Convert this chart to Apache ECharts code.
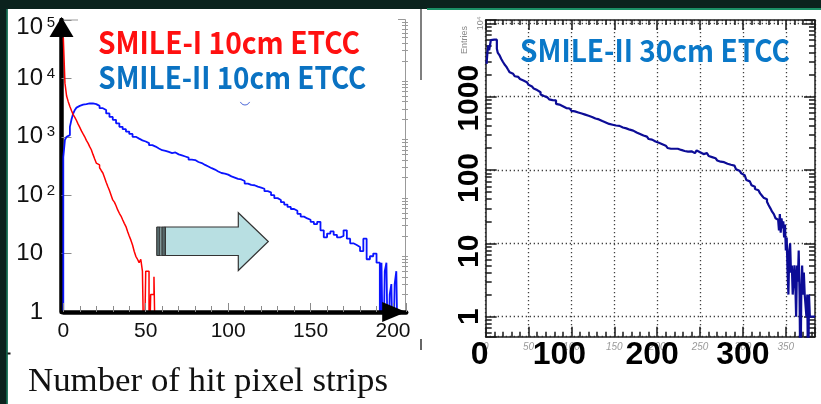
<!DOCTYPE html>
<html><head><meta charset="utf-8">
<script src="https://cdn.jsdelivr.net/npm/echarts@6/dist/echarts.min.js"></script>
<style>html,body{margin:0;padding:0;background:#0b221d;}#c{width:821px;height:404px;}</style>
</head><body><div id="c"></div><script>
// ---------- data ----------
const leftRedX = [0,1,2,3,4,5,6,7,8,9,10,11,12,13,14,15,16,17,18,19,20,21,22,23,24,25,26,27,28,29,30,31,32,33,34,35,36,37,38,39,40,41,42,43,44,45,46,47,48,49,50,51,52,53,54,55,56,57];
const leftRedY = [50000,8300,5000,4000,3300,2800,2400,2150,1900,1650,1450,1260,1120,1000,870,780,680,600,500,420,355,330,295,265,240,200,166,141,120,100,83,76,66,56,49,44,38,33,29,24,20,17,14,11,9,8,7,8,5,0.1,5,5,0.1,2,2,4,0.1,0.1];

const leftBlueX = [0,0,1,2,3,4,5,6,7,8,9,10,12,14,16,18,20,22,24,26,28,30,32,34,36,38,40,42,44,46,48,50,52,54,56,58,60,62,64,66,68,70,72,74,76,78,80,82,84,86,88,90,92,94,96,98,100,102,104,106,108,110,112,114,116,118,120,122,124,126,128,130,132,134,136,138,140,142,144,146,148,150,152,154,156,158,160,162,164,166,168,170,172,174,176,178,180,182,184,186,188,190,192,193,194,195,196,197,198,199,200,201,202,203,204];
const leftBlueY = [0.1,450,890,1000,1070,1480,2000,2500,2880,3160,3390,3550,3630,3720,3720,3630,3390,3090,2880,2510,2190,1950,1700,1480,1350,1230,1120,1000,930,870,830,780,720,680,630,590,575,550,525,540,500,480,460,440,405,400,370,355,330,310,290,275,255,240,235,225,210,200,190,186,175,158,150,148,140,135,129,117,112,100,89,83,76,69,63,58,54,48,43,40,38,35,32,35,25,19,22,24,21,19,20,25,18,15,14,13,11,18,8,9,10,7,0.1,7,0.1,5,7,0.1,2,3,0.1,3,5,0.1,0.1];

const rightX = [1,2,3,4,5,6,8,10,12,13,14,16,18,20,22,24,26,28,30,32,34,36,38,40,42,44,46,48,50,52,54,56,58,60,62,64,66,68,70,72,74,76,78,80,82,84,86,88,90,92,94,96,98,100,102,104,106,108,110,112,114,116,118,120,122,124,126,128,130,132,134,136,138,140,142,144,146,148,150,152,154,156,158,160,162,164,166,168,170,172,174,176,178,180,182,184,186,188,190,192,194,196,198,200,202,204,206,208,210,212,214,216,218,220,222,224,226,228,230,232,234,236,238,240,242,244,246,248,250,252,254,256,258,260,262,264,266,268,270,272,274,276,278,280,282,284,286,288,290,292,294,296,298,300,302,304,306,308,310,312,314,316,318,320,322,324,326,328,330,332,334,336,338,340,341,342,343,344,345,346,347,348,349,350,351,352,353,354,355,356,357,358,359,360,361,362,363,364,365,366,367,368,369,370,371,372,373,374,375,376,377,378,379,381,383];
const rightY = [2800,4000,5000,4300,5000,5900,6000,6000,6000,4500,4000,3700,3300,3000,2750,2570,2350,2150,2050,2000,1900,1860,1800,1740,1660,1700,1580,1510,1450,1380,1350,1290,1230,1170,1150,1070,1020,1000,980,960,920,900,870,890,800,780,760,740,710,700,680,690,660,640,630,620,610,600,590,575,570,555,550,540,530,520,505,495,490,480,465,455,445,440,425,420,415,410,405,395,400,385,380,375,370,365,355,350,345,335,325,315,310,300,295,290,285,275,265,260,250,245,240,235,230,225,220,215,205,200,195,200,195,200,195,190,188,185,182,180,178,175,180,175,170,180,185,175,170,165,160,170,160,155,150,145,145,140,135,130,135,128,125,122,120,118,118,115,108,102,98,96,90,85,80,73,70,66,62,59,55,53,50,48,45,42,40,37,33,30,27,25,22,21,21,15,25,14,22,16,20,12,18,8,12,4,2,8,10,4,5,2,3,5,3,1,5,3,8,2,0.1,2,5,2,4,2,2,1,2,0.1,2,1,1,1,1];

const leftXLabels = [0, 50, 100, 150, 200];
const rightSmallXLabels = [0, 50, 100, 150, 200, 250, 300, 350];
const rightBigXLabels = [0, 100, 200, 300];
const rightBigYLabels = [1, 10, 100, 1000];

const legendTexts = ['SMILE-I 10cm ETCC', 'SMILE-II 10cm ETCC', 'SMILE-II 30cm ETCC'];
const xTitle = 'Number of hit pixel strips';

// ---------- helpers ----------
function hist(xs, ys, w) {
  const d = xs.map((x, i) => [x, ys[i]]);
  d.push([xs[xs.length - 1] + w, ys[ys.length - 1]]);
  return d;
}
function logMinor(e0, e1) {
  const out = [];
  for (let e = e0; e < e1; e++) for (let m = 2; m <= 9; m++) out.push(+(m * Math.pow(10, e)).toPrecision(6));
  return out;
}
function isDecade(v) { const l = Math.log10(v); return Math.abs(l - Math.round(l)) < 1e-6; }
const mctx = document.createElement('canvas').getContext('2d');
function fit(text, font, w) { mctx.font = font; return w / mctx.measureText(text).width; }

const LEG_FONT = 'bold 31px "Noto Sans CJK JP"';
const SERIF_FONT = '34px "Liberation Serif"';
const sans = '"Liberation Sans", Arial, sans-serif';

const rYmin = 0.533, rYmax = 11120, rXmax = 384;
const darkTick = {color: '#1a1a1a', width: 1.5};
const dotted = {color: '#404040', width: 1.3, type: [1.3, 2.7]};

const chart = echarts.init(document.getElementById('c'), null, {renderer: 'canvas'});
chart.setOption({
  backgroundColor: '#0b221d',
  animation: false,
  grid: [
    {left: 63.3, top: 20, right: 414.8, bottom: 92},
    {left: 485.7, top: 20, right: 6, bottom: 67.3}
  ],
  xAxis: [
    { type: 'value', gridIndex: 0, min: 0, max: 208, interval: 50, z: 3,
      axisLine: {show: true, onZero: false, lineStyle: {color: '#000', width: 4.5}, symbol: ['none', 'triangle'], symbolSize: [20, 24], symbolOffset: [0, -12]},
      axisTick: {show: true, inside: true, length: 9, lineStyle: {color: '#8a8a8a', width: 1}},
      minorTick: {show: true, splitNumber: 5, length: 6, lineStyle: {color: '#8a8a8a', width: 1}},
      axisLabel: {margin: 9, fontSize: 21, fontFamily: sans, color: '#111', formatter: v => leftXLabels.includes(v) ? String(v) : ''},
      splitLine: {show: false}, minorSplitLine: {show: false} },
    { type: 'value', gridIndex: 1, min: 0, max: rXmax, interval: 50, position: 'bottom',
      axisLine: {show: true, onZero: false, lineStyle: {color: '#222', width: 1.5}},
      axisTick: {show: true, inside: true, length: 10, lineStyle: darkTick},
      minorTick: {show: true, splitNumber: 5, length: 5, lineStyle: darkTick},
      axisLabel: {margin: 6, fontSize: 10, fontFamily: sans, fontStyle: 'italic', color: '#9a9a9a', formatter: v => rightSmallXLabels.includes(v) ? String(v) : ''},
      splitLine: {show: true, lineStyle: dotted} },
    { type: 'value', gridIndex: 1, min: 0, max: rXmax, interval: 100, position: 'bottom',
      axisLine: {show: false, onZero: false}, axisTick: {show: false},
      axisLabel: {margin: 2, fontSize: 32, fontWeight: 'bold', fontFamily: sans, color: '#000',
        formatter: v => !rightBigXLabels.includes(v) ? '' : (v === 0 ? '0{g0| }' : v === 100 ? '100{g1| }' : v === 200 ? '200{g2| }' : '300'),
        rich: {g0: {fontSize: 32, width: 12}, g1: {fontSize: 32, width: 24}, g2: {fontSize: 32, width: 10}}},
      splitLine: {show: false} },
    { type: 'value', gridIndex: 1, min: 0, max: rXmax, interval: 50, position: 'top',
      axisLine: {show: true, onZero: false, lineStyle: {color: '#222', width: 1.5}},
      axisTick: {show: true, inside: true, length: 10, lineStyle: darkTick},
      minorTick: {show: true, splitNumber: 5, length: 5, lineStyle: darkTick},
      axisLabel: {show: false}, splitLine: {show: false} }
  ],
  yAxis: [
    { type: 'log', logBase: 10, gridIndex: 0, min: 1, max: 100000, offset: 1.8, z: 1,
      axisLine: {show: true, onZero: false, lineStyle: {color: '#000', width: 4.5}, symbol: ['none', 'triangle'], symbolSize: [24, 20], symbolOffset: [0, -7]},
      axisTick: {show: true, inside: true, length: 10, lineStyle: {color: '#8a8a8a', width: 1}},
      axisLabel: {margin: 6.5, fontSize: 24, fontFamily: sans, color: '#111',
        formatter: v => {
          if (!isDecade(v)) return '';
          const e = Math.round(Math.log10(v));
          if (e === 0) return '1{sp| }';
          if (e === 1) return '10{sp| }';
          if (e === 5) return '{e| }\n10{sup|5}';
          return '10{sup|' + e + '}';
        },
        rich: {
          sup: {fontSize: 15, fontFamily: sans, color: '#111', verticalAlign: 'top', width: 9, padding: [0, 0, 0, 3]},
          sp: {fontSize: 15, width: 9, padding: [0, 0, 0, 3]},
          e: {fontSize: 12, lineHeight: 14}
        }},
      splitLine: {show: false} },
    { type: 'log', logBase: 10, gridIndex: 0, min: 1, max: 100000, offset: 1.8,
      axisLine: {show: false, onZero: false},
      axisTick: {show: true, inside: true, length: 6, customValues: logMinor(0, 5), lineStyle: {color: '#9a9a9a', width: 1}},
      axisLabel: {show: false}, splitLine: {show: false} },
    { type: 'log', logBase: 10, gridIndex: 1, min: rYmin, max: rYmax, position: 'left',
      axisLine: {show: true, onZero: false, lineStyle: {color: '#222', width: 1.5}},
      axisTick: {show: true, inside: true, length: 11, lineStyle: darkTick},
      axisLabel: {margin: 1, rotate: 90, fontSize: 30, fontWeight: 'bold', fontFamily: sans, color: '#000',
        formatter: v => {
          if (!isDecade(v)) return '';
          const r = Math.round(v);
          if (r === 10000) return '{s|10⁴}';
          if (r === 1000) return '1000{g|}{k| }';
          if (r === 100 || r === 10) return r + '{h| }';
          return rightBigYLabels.includes(r) ? String(r) : '';
        },
        rich: {
          s: {fontSize: 9, fontWeight: 'normal', color: '#8a8a8a', fontFamily: sans},
          k: {fontSize: 30, width: 3},
          h: {fontSize: 30, width: 16}
        }},
      splitLine: {show: true, lineStyle: dotted} },
    { type: 'log', logBase: 10, gridIndex: 1, min: rYmin, max: rYmax, position: 'left',
      axisLine: {show: false, onZero: false},
      axisTick: {show: true, inside: true, length: 6, customValues: logMinor(-1, 5), lineStyle: darkTick},
      axisLabel: {show: false}, splitLine: {show: false} },
    { type: 'log', logBase: 10, gridIndex: 1, min: rYmin, max: rYmax, position: 'right',
      axisLine: {show: true, onZero: false, lineStyle: {color: '#222', width: 1.5}},
      axisTick: {show: true, inside: true, length: 11, lineStyle: darkTick},
      axisLabel: {show: false}, splitLine: {show: false} },
    { type: 'log', logBase: 10, gridIndex: 1, min: rYmin, max: rYmax, position: 'right',
      axisLine: {show: false, onZero: false},
      axisTick: {show: true, inside: true, length: 6, customValues: logMinor(-1, 5), lineStyle: darkTick},
      axisLabel: {show: false}, splitLine: {show: false} }
  ],
  series: [
    { type: 'line', name: legendTexts[1], xAxisIndex: 0, yAxisIndex: 0, data: hist(leftBlueX, leftBlueY, 1), step: 'end', symbol: 'none', clip: true, z: 2,
      lineStyle: {color: '#0a14ff', width: 1.8}, itemStyle: {color: '#0a14ff'} },
    { type: 'line', name: legendTexts[0], xAxisIndex: 0, yAxisIndex: 0, data: hist(leftRedX, leftRedY, 1), step: 'end', symbol: 'none', clip: true, z: 2,
      lineStyle: {color: '#ff0000', width: 1.5}, itemStyle: {color: '#ff0000'} },
    { type: 'line', name: legendTexts[2], xAxisIndex: 1, yAxisIndex: 2, data: hist(rightX, rightY, 1), step: 'end', symbol: 'none', clip: true, z: 2,
      lineStyle: {color: '#0c0c96', width: 2.2}, itemStyle: {color: '#0c0c96'} }
  ],
  graphic: {elements: [
    {type: 'rect', z: -100, silent: true, shape: {x: 7.5, y: 9, width: 813.5, height: 395}, style: {fill: '#ffffff'}},
    {type: 'rect', z: -90, silent: true, shape: {x: 427, y: 8, width: 394, height: 2}, style: {fill: '#1b8f66'}},
    {type: 'rect', z: -90, silent: true, shape: {x: 6.3, y: 9, width: 1.5, height: 395}, style: {fill: '#14785a'}},
    {type: 'line', z: -80, silent: true, shape: {x1: 421, y1: 9, x2: 421, y2: 80}, style: {stroke: '#555', lineWidth: 1.5}},
    {type: 'line', z: -80, silent: true, shape: {x1: 421, y1: 339, x2: 421, y2: 350}, style: {stroke: '#333', lineWidth: 1.5}},
    {type: 'rect', z: -80, silent: true, shape: {x: 7.5, y: 352.5, width: 3, height: 2}, style: {fill: '#111'}},
    {type: 'polyline', z: -80, silent: true, shape: {points: [[63, 20], [78, 20]]}, style: {stroke: '#999', lineWidth: 1}},
    {type: 'polyline', z: -80, silent: true, shape: {points: [[398, 19.5], [405.5, 19.5], [405.5, 312]]}, style: {stroke: '#999', lineWidth: 1}},
    // block arrow
    {type: 'polygon', z: 10, silent: true, shape: {points: [[165.3, 227], [238.3, 227], [238.3, 212.7], [268.3, 241.5], [238.3, 270.5], [238.3, 255.5], [165.3, 255.5]]}, style: {fill: '#b8dfe2', stroke: '#333', lineWidth: 1.2}},
    {type: 'rect', z: 10, silent: true, shape: {x: 156.7, y: 227, width: 3.3, height: 28.5}, style: {fill: '#56696b', stroke: '#333', lineWidth: 1}},
    {type: 'rect', z: 10, silent: true, shape: {x: 160, y: 227, width: 2, height: 28.5}, style: {fill: '#b8dfe2', stroke: '#333', lineWidth: 0.8}},
    {type: 'rect', z: 10, silent: true, shape: {x: 162, y: 227, width: 3.3, height: 28.5}, style: {fill: '#56696b', stroke: '#333', lineWidth: 1}},
    {type: 'arc', z: 10, silent: true, shape: {cx: 245, cy: 100, r: 5, startAngle: 0.4, endAngle: Math.PI - 0.4}, style: {stroke: '#4a66d8', lineWidth: 1, fill: null}},
    // texts
    {type: 'text', z: 20, silent: true, x: 98, y: 42, scaleX: fit(legendTexts[0], LEG_FONT, 262), style: {text: legendTexts[0], font: LEG_FONT, fill: '#ff1010', align: 'left', verticalAlign: 'middle'}},
    {type: 'text', z: 20, silent: true, x: 98.3, y: 77.2, scaleX: fit(legendTexts[1], LEG_FONT, 268), style: {text: legendTexts[1], font: LEG_FONT, fill: '#0a72c2', align: 'left', verticalAlign: 'middle'}},
    {type: 'text', z: 20, silent: true, x: 520, y: 50, scaleX: fit(legendTexts[2], LEG_FONT, 270), style: {text: legendTexts[2], font: LEG_FONT, fill: '#0a78c8', align: 'left', verticalAlign: 'middle'}},
    {type: 'text', z: 20, silent: true, x: 28, y: 382.5, scaleX: fit(xTitle, SERIF_FONT, 360), style: {text: xTitle, font: SERIF_FONT, fill: '#111', align: 'left', verticalAlign: 'middle'}},
    {type: 'text', z: 20, silent: true, x: 465, y: 40, rotation: Math.PI / 2, style: {text: 'Entries', font: '9px "Liberation Sans"', fill: '#8a8a8a', align: 'center', verticalAlign: 'middle'}}
  ]}
});
</script></body></html>
